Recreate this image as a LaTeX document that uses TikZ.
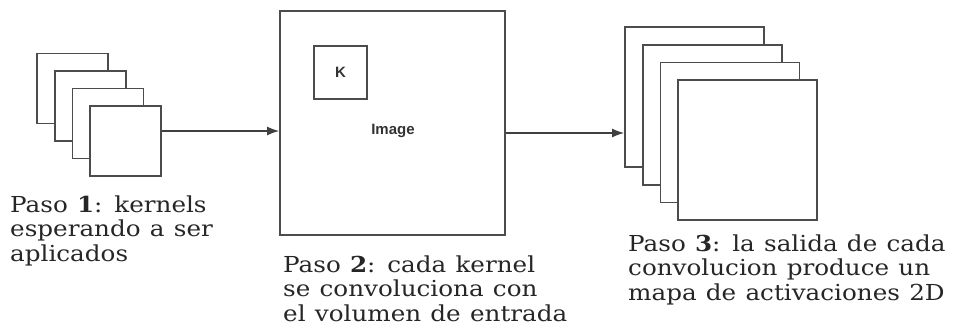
\documentclass[tikz,border=0pt]{standalone}
\usepackage{fontspec}
\setmainfont{DejaVu Serif}[FakeStretch=1.12]
\newfontfamily\labelfont{Liberation Sans}
\usetikzlibrary{arrows.meta}
\tikzset{
  sq/.style={draw=black!70, line width=1.8pt, fill=white, inner sep=0pt},
  arr/.style={line width=1.3pt, draw=black!75, -{Latex[length=12pt,width=9pt]}},
  txt/.style={anchor=base west, align=left, text=black!85, inner sep=0pt,
    font={\fontsize{22}{24.5}\selectfont\spaceskip=0.42em plus 0.1em}},
  lab/.style={text=black!80, font={\labelfont\bfseries\fontsize{15}{17}\selectfont}}
}
\begin{document}
\begin{tikzpicture}[x=1pt,y=-1pt]
        \useasboundingbox (0,0) rectangle (956,335);

        \node [sq, minimum width=71pt, minimum height=70pt] (k1) at (72.5,88.5) {};
        \node [sq, minimum width=71pt, minimum height=70pt] (k2) at (90.5,106) {};
        \node [sq, minimum width=71pt, minimum height=70pt] (k3) at (108,123.5) {};
        \node [sq, minimum width=71pt, minimum height=70pt] (k4) at (125.5,141) {};
        % base anchor sits on the last line
        \node [txt] (t1) at (10,261) {Paso \textbf{1}: kernels\\esperando a ser\\aplicados};

        \node [sq, minimum width=225pt, minimum height=224pt] (img) at (392.5,123) {};
        \node [sq, minimum width=53pt, minimum height=53pt] (ker) at (340.5,72.5) {};
        \node [lab] (kl) at (ker.center) {K};
        \node [lab] (il) at (393,131) {Image};
        \node [txt] (t2) at (283,321) {Paso \textbf{2}: cada kernel\\se convoluciona con\\el volumen de entrada};

        \node [sq, minimum width=139pt, minimum height=140pt] (m1) at (694.5,97) {};
        \node [sq, minimum width=139pt, minimum height=140pt] (m2) at (712.5,115) {};
        \node [sq, minimum width=139pt, minimum height=140pt] (m3) at (730,132.5) {};
        \node [sq, minimum width=139pt, minimum height=140pt] (m4) at (747.5,150) {};
        \node [txt] (t3) at (628,300) {Paso \textbf{3}: la salida de cada\\convolucion produce un\\mapa de activaciones 2D};

        \draw [arr] (k4.east |- il.center) -- (img.west |- il.center);
        \draw [arr] ([yshift=-2pt]img.east |- il.center) -- ([yshift=-2pt]m1.west |- il.center);
    \end{tikzpicture}
\end{document}
